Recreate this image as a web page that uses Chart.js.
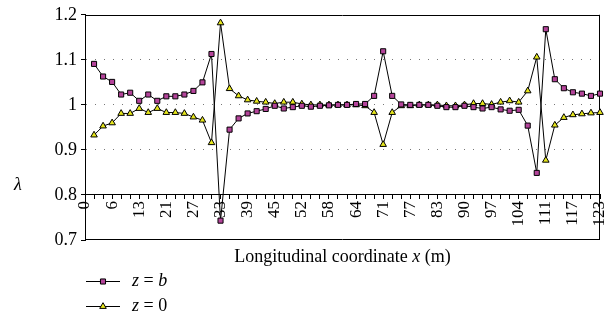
<!DOCTYPE html>
<html>
<head>
<meta charset="utf-8">
<script src="https://cdn.jsdelivr.net/npm/chart.js@4/dist/chart.umd.min.js"></script>
<style>
  html, body { margin: 0; padding: 0; background: #fff; }
  #wrap { width: 605px; height: 328px; position: relative; }
</style>
</head>
<body>
<div id="wrap"><canvas id="chart"></canvas></div>
<script>
// longitudinal coordinate x (m), only every third one is labelled
const xValues = [0, 2, 4, 6, 8, 11, 13, 16, 18, 21, 23, 25, 27, 29, 31, 33, 35, 37, 39, 41, 43,
  45, 48, 50, 52, 54, 56, 58, 60, 62, 64, 67, 69, 71, 73, 75, 77, 79, 81, 83, 85, 88, 90, 92,
  95, 97, 99, 102, 104, 106, 109, 111, 113, 115, 117, 119, 121, 123];

// lambda at z = b (squares)
const lambdaZb = [null, 1.091, 1.063, 1.051, 1.023, 1.027, 1.009, 1.023, 1.009, 1.019, 1.019,
  1.023, 1.031, 1.050, 1.113, 0.743, 0.945, 0.970, 0.981, 0.986, 0.991, 0.998, 0.992, 0.995,
  0.998, 0.996, 0.998, 0.999, 1.000, 1.000, 1.002, 1.002, 1.020, 1.119, 1.020, 1.001, 1.000,
  1.000, 1.000, 0.998, 0.995, 0.995, 0.998, 0.995, 0.992, 0.995, 0.990, 0.987, 0.989, 0.954,
  0.849, 1.168, 1.057, 1.037, 1.028, 1.025, 1.020, 1.025];

// lambda at z = 0 (triangles)
const lambdaZ0 = [null, 0.933, 0.953, 0.960, 0.981, 0.981, 0.992, 0.983, 0.992, 0.983, 0.983,
  0.981, 0.973, 0.966, 0.916, 1.182, 1.036, 1.020, 1.011, 1.008, 1.006, 1.003, 1.006, 1.006,
  1.002, 1.000, 1.000, 1.000, 1.000, 1.000, 1.000, 0.998, 0.983, 0.912, 0.983, 0.998, 0.998,
  1.000, 1.000, 1.000, 0.998, 0.998, 1.000, 1.003, 1.003, 1.001, 1.006, 1.009, 1.006, 1.031,
  1.106, 0.877, 0.955, 0.972, 0.978, 0.980, 0.982, 0.983];

const yTicks = [0.7, 0.8, 0.9, 1.0, 1.1, 1.2];
const dottedAt = [0.9, 1.0, 1.1];

const seriesNames = ['b', '0'];
const serif = "'Liberation Serif', 'DejaVu Serif', serif";
const pinkFill = '#b4449a';
const yellowFill = '#e6e61c';

// frame, axis title, lambda and the legend drawn by hand
const decorations = {
  id: 'decorations',
  beforeDatasetsDraw(chart) {
    const { ctx, chartArea: a } = chart;
    ctx.save();
    ctx.strokeStyle = '#000';
    ctx.lineWidth = 1;
    ctx.beginPath();
    ctx.moveTo(a.left, Math.round(a.top) + 0.5);
    ctx.lineTo(a.right, Math.round(a.top) + 0.5);
    ctx.moveTo(a.left, Math.round(a.bottom) - 0.5);
    ctx.lineTo(a.right, Math.round(a.bottom) - 0.5);
    ctx.moveTo(Math.round(a.right) - 0.5, a.top);
    ctx.lineTo(Math.round(a.right) - 0.5, a.bottom);
    ctx.stroke();
    ctx.restore();
  },
  afterDraw(chart) {
    const { ctx, chartArea: a } = chart;
    ctx.save();
    ctx.fillStyle = '#000';
    ctx.textBaseline = 'middle';

    // y title
    ctx.font = 'italic 18px ' + serif;
    ctx.textAlign = 'center';
    ctx.fillText('λ', 18, 185);

    // x title, mixed upright / italic
    const parts = [['Longitudinal coordinate ', ''], ['x', 'italic '], [' (m)', '']];
    let total = 0;
    parts.forEach(p => { ctx.font = p[1] + '18px ' + serif; total += ctx.measureText(p[0]).width; });
    let x = (a.left + a.right) / 2 - total / 2;
    ctx.textAlign = 'left';
    parts.forEach(p => {
      ctx.font = p[1] + '18px ' + serif;
      ctx.fillText(p[0], x, 257);
      x += ctx.measureText(p[0]).width;
    });

    // legend
    chart.data.datasets.forEach((ds, i) => {
      const y = 281 + i * 25;
      ctx.strokeStyle = '#000';
      ctx.lineWidth = 1;
      ctx.beginPath();
      ctx.moveTo(86, y + 0.5);
      ctx.lineTo(120, y + 0.5);
      ctx.stroke();
      ctx.fillStyle = ds.pointBackgroundColor;
      Chart.helpers.drawPoint(ctx, {
        pointStyle: ds.pointStyle, radius: ds.pointRadius, rotation: 0, borderWidth: 1
      }, 103, y + 0.5);
      ctx.fillStyle = '#000';
      let tx = 132;
      const bits = [['z', 'italic '], [' = ', ''], [seriesNames[i], i === 0 ? 'italic ' : '']];
      bits.forEach(b => {
        ctx.font = b[1] + '18px ' + serif;
        ctx.fillText(b[0], tx, y);
        tx += ctx.measureText(b[0]).width;
      });
    });
    ctx.restore();
  }
};

new Chart(document.getElementById('chart'), {
  type: 'line',
  data: {
    labels: xValues,
    datasets: [
      {
        label: 'z = b',
        data: lambdaZb,
        borderColor: '#000',
        borderWidth: 1,
        pointStyle: 'rect',
        pointRadius: 3.6,
        pointBackgroundColor: pinkFill,
        pointBorderColor: '#000',
        pointBorderWidth: 1,
        tension: 0,
        spanGaps: false
      },
      {
        label: 'z = 0',
        data: lambdaZ0,
        borderColor: '#000',
        borderWidth: 1,
        pointStyle: 'triangle',
        pointRadius: 3.8,
        pointBackgroundColor: yellowFill,
        pointBorderColor: '#000',
        pointBorderWidth: 1,
        tension: 0,
        spanGaps: false
      }
    ]
  },
  options: {
    responsive: true,
    maintainAspectRatio: false,
    animation: false,
    layout: { padding: { top: 14, right: 3, bottom: 88, left: 0 } },
    plugins: {
      legend: { display: false },
      tooltip: { enabled: false }
    },
    scales: {
      x: {
        type: 'category',
        position: { y: 0.8 },
        offset: false,
        grid: {
          drawOnChartArea: false,
          drawTicks: true,
          tickLength: 4,
          tickColor: '#000',
          tickWidth: 1
        },
        border: { display: true, color: '#000', width: 1 },
        ticks: {
          autoSkip: false,
          minRotation: 90,
          maxRotation: 90,
          padding: 2,
          color: '#000',
          font: { family: serif, size: 17 },
          callback: (v, i) => (i % 3 === 0 ? String(xValues[i]) : '')
        },
        afterFit: s => { s.paddingLeft = 0; s.paddingRight = 0; }
      },
      y: {
        min: 0.7,
        max: 1.2,
        afterBuildTicks: s => { s.ticks = yTicks.map(v => ({ value: v })); },
        grid: {
          color: c => (dottedAt.some(v => Math.abs(v - c.tick.value) < 1e-6) ? '#777' : 'rgba(0,0,0,0)'),
          lineWidth: 1,
          drawTicks: true,
          tickLength: 4,
          tickColor: '#000'
        },
        border: { display: true, color: '#000', width: 1, dash: [1, 8] },
        ticks: {
          padding: 4,
          color: '#000',
          font: { family: serif, size: 18 },
          callback: v => (Math.abs(v - 1) < 1e-6 ? '1' : Number(v).toFixed(1))
        },
        afterFit: s => { s.width = 85; }
      }
    }
  },
  plugins: [decorations]
});
</script>
</body>
</html>
